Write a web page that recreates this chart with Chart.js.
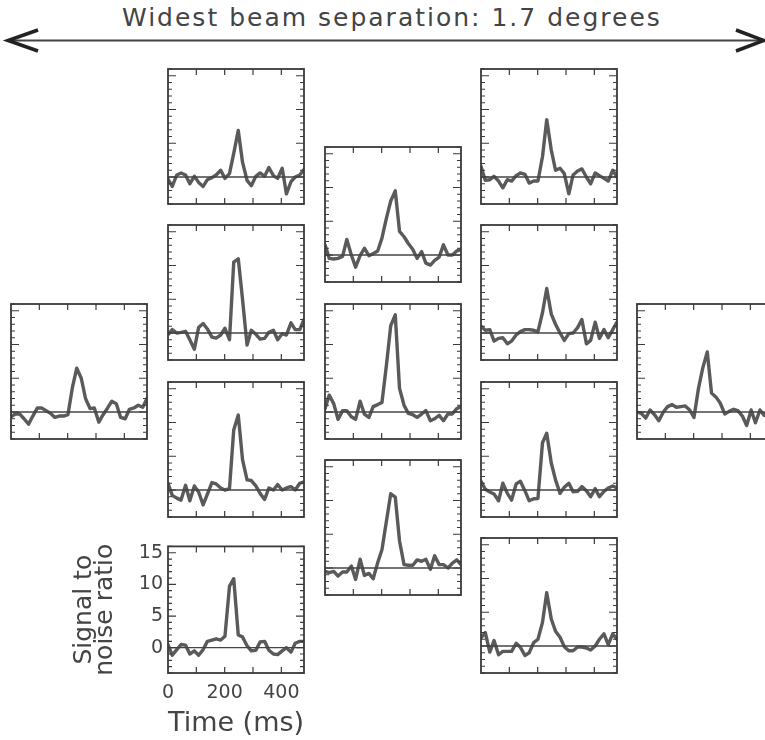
<!DOCTYPE html>
<html>
<head>
<meta charset="utf-8">
<script src="https://cdn.jsdelivr.net/npm/chart.js@4.4.0/dist/chart.umd.min.js"></script>
<style>
html, body { margin: 0; padding: 0; background: #fff; }
#stage { position: relative; width: 765px; height: 740px; overflow: hidden; background: #fff; }
#stage canvas { position: absolute; }
#title { position: absolute; left: 122px; top: 3px; font: 25px "DejaVu Sans", sans-serif; letter-spacing: 2px; color: #444; white-space: nowrap; }
#arrow { position: absolute; left: 0; top: 0; }
</style>
</head>
<body>
<div id="stage">
  <div id="title">Widest beam separation: 1.7 degrees</div>
  <svg id="arrow" width="765" height="60">
    <line x1="10" y1="40.5" x2="760" y2="40.5" stroke="#444" stroke-width="2"/>
    <polyline points="38,30 8,40.5 38,51" fill="none" stroke="#222" stroke-width="3.5"/>
    <polyline points="736,30 764,40.5 736,51" fill="none" stroke="#222" stroke-width="3.5"/>
  </svg>
</div>
<script>
// sample times (ms) shared by every beam
const timeMs = [0, 15, 31, 46, 62, 77, 93, 108, 124, 139, 155, 170, 186, 201, 217, 232,
                248, 263, 279, 294, 310, 325, 341, 356, 372, 387, 403, 418, 434, 449, 465, 480];

// signal to noise ratio per beam
const beamWest = [-0.7, -0.3, -0.3, -1.0, -1.8, -0.6, 0.6, 0.6, 0.2, -0.2, -0.8, -0.6, -0.6, -0.4, 3.7, 6.5,
                  5.0, 2.0, 0.5, 0.6, -1.5, -0.4, 0.6, 1.6, 1.2, -0.8, -1.0, 0.4, 0.6, 1.0, 0.7, 2.0];
const beamB1 = [-0.3, -1.4, 0.3, 0.6, 0.3, -1.0, 0.1, -0.8, -1.4, -0.4, -0.1, 0.3, 1.0, -0.2, 0.5, 3.5,
                6.9, 2.2, -0.5, -1.3, 0.1, 0.6, 0.1, 1.4, 0.2, -0.2, 1.3, -2.5, -0.7, 0.0, 0.3, 1.1];
const beamB2 = [-0.25, 0.5, 0.0, 0.1, 0.25, -1.0, -2.4, 0.8, 1.4, 0.6, -0.6, -0.75, -0.3, 0.7, -1.0, 10.5,
                11.0, 5.0, -1.8, 0.4, -0.2, -0.9, -0.8, 0.1, 0.4, -1.0, -0.1, -0.3, 1.5, 0.5, 0.5, 2.0];
const beamB3 = [1.0, -0.8, -1.2, -1.5, 0.7, -1.6, 0.6, -0.3, -2.2, -0.6, 1.1, 0.9, 0.3, 0.0, 0.2, 8.9,
                11.1, 4.5, 1.5, 1.4, 0.6, -0.5, -1.4, 0.3, 0.0, 0.8, 0.0, 0.3, 0.5, 0.0, 1.0, 1.2];
const beamB4 = [0.5, -1.2, -0.3, 0.5, 0.4, -1.0, -0.5, -1.2, -0.3, 1.0, 1.2, 1.4, 1.2, 1.8, 9.7, 10.9,
                2.0, 1.7, 0.3, -0.5, -0.4, 0.9, 1.0, -0.4, -1.0, -1.1, -0.5, 0.0, -0.7, 0.7, 1.0, 1.0];
const beamC1 = [1.5, -0.5, -0.6, -0.5, -0.2, 2.3, 0.0, -1.8, -0.1, 1.0, -0.1, 0.2, 0.6, 2.5, 5.5, 8.0,
                9.5, 3.5, 2.7, 1.7, 0.8, -0.5, 0.5, -1.2, -1.5, -0.8, -0.3, 1.5, 0.0, 0.0, 0.6, 0.8];
const beamC2 = [0.5, 2.5, 1.2, -1.1, 0.2, 0.2, -0.7, -1.1, 1.6, -0.3, -0.8, 0.8, 1.1, 1.4, 7.0, 12.8,
                14.4, 3.5, 1.0, -0.2, -0.4, -0.8, -0.3, 0.2, -1.3, -1.0, -0.5, -1.3, -0.3, -0.3, 0.5, 0.8];
const beamC3 = [-0.5, -0.7, -0.5, -1.2, -0.6, -0.6, 0.3, -1.7, 1.3, -1.1, -0.8, -1.6, 0.8, 2.7, 7.0, 11.0,
                10.5, 4.0, 0.5, 0.4, 0.4, 1.2, 1.0, 1.3, -0.2, 1.8, 0.5, 0.5, 0.0, 0.7, 1.2, 0.5];
const beamD1 = [1.6, -0.5, -0.4, 0.1, -0.6, -1.6, -0.4, -0.6, 0.2, 0.6, 0.4, -0.9, -0.6, -0.6, 3.0, 8.5,
                4.0, 1.0, 1.3, 0.5, -2.5, 0.3, 0.9, 1.2, 0.0, -1.0, 0.6, 0.2, -0.2, -0.6, 1.0, 0.0];
const beamD2 = [1.0, 0.4, 0.5, -1.2, -0.8, -0.7, -1.6, -1.2, -0.3, 0.2, 0.5, 0.5, 0.4, 0.2, 3.0, 6.6,
                2.8, 1.3, 0.0, -1.1, -0.1, 0.0, 0.8, 2.0, -1.6, -1.1, 1.6, -0.8, 0.5, -0.7, 0.5, 1.6];
const beamD3 = [1.3, 0.1, -0.3, -0.6, -1.6, 1.0, -0.5, -1.5, 0.9, 1.3, -0.1, -1.6, -1.3, -1.25, 7.0, 8.4,
                4.0, 1.5, -0.5, 0.4, 1.0, -0.25, -0.2, 0.5, -0.1, -1.0, 0.2, -1.0, -0.2, 0.3, 0.6, 0.3];
const beamD4 = [1.2, 2.0, -0.9, 0.8, -1.3, -0.8, -0.8, -0.8, 0.4, -0.2, -1.4, -1.0, 0.5, 1.0, 3.5, 7.9,
                4.0, 2.2, 1.3, -0.1, -0.7, -0.7, -0.15, -0.15, -0.3, -0.6, 0.0, 1.0, 1.8, 0.2, 1.8, 1.0];
const beamEast = [0.0, -0.2, -0.9, 0.3, -0.4, -1.3, 0.0, 0.8, 1.1, 0.7, 0.8, 0.9, 0.3, -0.8, 3.5, 6.5,
                  8.9, 2.8, 2.2, 1.3, -0.3, 0.1, 0.4, 0.2, -0.6, -2.0, 0.3, -1.6, 0.3, -0.5, 0.3, 0.5];

// axis ranges and ticks
const timeRange = [0, 480];
const snrRange = [-4, 16];
const xTickValues = [100, 200, 300, 400];
const yTickValues = [-4, -3, -2, -1, 0, 1, 2, 3, 4, 5, 6, 7, 8, 9, 10, 11, 12, 13, 14, 15, 16];
const xLabelTicks = [0, 200, 400];
const yLabelTicks = [0, 5, 10, 15];

// where each panel's plot box sits (left, top of plot area in px)
const panels = [
  { values: beamWest, left: 11,  top: 304 },
  { values: beamB1,   left: 168, top: 69 },
  { values: beamB2,   left: 168, top: 225 },
  { values: beamB3,   left: 168, top: 382 },
  { values: beamB4,   left: 168, top: 538, labelled: true },
  { values: beamC1,   left: 325, top: 147 },
  { values: beamC2,   left: 325, top: 304 },
  { values: beamC3,   left: 325, top: 460 },
  { values: beamD1,   left: 481, top: 69 },
  { values: beamD2,   left: 481, top: 225 },
  { values: beamD3,   left: 481, top: 382 },
  { values: beamD4,   left: 481, top: 538 },
  { values: beamEast, left: 637, top: 304 }
];
const boxW = 136, boxH = 135, pad = 5;

// inward tick marks and the frame, drawn from the chart's own scales
const frameTicks = {
  id: 'frameTicks',
  afterDatasetsDraw(chart) {
    const { ctx, chartArea: a, scales: { x, y } } = chart;
    ctx.save();
    ctx.strokeStyle = '#3a3a3a';
    ctx.lineWidth = 1.2;
    ctx.beginPath();
    yTickValues.forEach(v => {
      const py = y.getPixelForValue(v);
      const len = v % 5 === 0 ? 8 : 4;
      ctx.moveTo(a.left, py); ctx.lineTo(a.left + len, py);
      ctx.moveTo(a.right, py); ctx.lineTo(a.right - len, py);
    });
    xTickValues.forEach(v => {
      const px = x.getPixelForValue(v);
      ctx.moveTo(px, a.top); ctx.lineTo(px, a.top + 6);
      ctx.moveTo(px, a.bottom); ctx.lineTo(px, a.bottom - 6);
    });
    ctx.stroke();
    ctx.lineWidth = 1.8;
    ctx.strokeRect(a.left, a.top, a.right - a.left, a.bottom - a.top);
    ctx.restore();
  }
};

const stage = document.getElementById('stage');

function makePanel(p) {
  const canvas = document.createElement('canvas');
  let cw = boxW + 2 * pad, ch = boxH + 2 * pad;
  let left = p.left - pad, top = p.top - pad;
  let padding = pad;
  if (p.labelled) {
    left = 60; top = 530;
    cw = 260; ch = 210;
    padding = { left: 0, top: p.top - top, right: left + cw - (p.left + boxW), bottom: 0 };
  }
  canvas.width = cw; canvas.height = ch;
  canvas.style.left = left + 'px';
  canvas.style.top = top + 'px';
  stage.appendChild(canvas);

  const points = timeMs.map((t, i) => ({ x: t, y: p.values[i] }));
  const zeroLine = [{ x: timeRange[0], y: 0 }, { x: timeRange[1], y: 0 }];
  const font = { family: 'DejaVu Sans', size: 19 };

  const xScale = { type: 'linear', min: timeRange[0], max: timeRange[1], display: false };
  const yScale = { type: 'linear', min: snrRange[0], max: snrRange[1], display: false };
  if (p.labelled) {
    Object.assign(xScale, {
      display: true,
      grid: { display: false, drawTicks: false },
      border: { display: false },
      ticks: { color: '#444', font: font, padding: 9, maxRotation: 0 },
      afterBuildTicks: s => { s.ticks = xLabelTicks.map(v => ({ value: v })); },
      afterFit: s => { s.height = 740 - top - (p.top - top) - boxH; },
      title: { display: true, text: 'Time (ms)', color: '#444',
               font: { family: 'DejaVu Sans', size: 27, lineHeight: 1.0 }, padding: { top: 0, bottom: 3 } }
    });
    Object.assign(yScale, {
      display: true,
      grid: { display: false, drawTicks: false },
      border: { display: false },
      ticks: { color: '#444', font: font, padding: 5 },
      afterBuildTicks: s => { s.ticks = yLabelTicks.map(v => ({ value: v })); },
      afterFit: s => { s.width = p.left - left; },
      title: { display: true, text: ['Signal to', 'noise ratio'], color: '#444',
               font: { family: 'DejaVu Sans', size: 25, lineHeight: 0.85 }, padding: { top: 14, bottom: 0 } }
    });
  }

  new Chart(canvas, {
    type: 'line',
    data: {
      datasets: [
        { data: zeroLine, borderColor: '#454545', borderWidth: 1.3, pointRadius: 0, order: 0 },
        { data: points, borderColor: '#5a5a5a', borderWidth: 3.4, pointRadius: 0,
          borderJoinStyle: 'round', borderCapStyle: 'round', tension: 0, order: 1 }
      ]
    },
    options: {
      responsive: false,
      animation: false,
      events: [],
      devicePixelRatio: 1,
      layout: { padding: padding },
      plugins: { legend: { display: false }, tooltip: { enabled: false } },
      scales: { x: xScale, y: yScale }
    },
    plugins: [frameTicks]
  });
}

panels.forEach(makePanel);
</script>
</body>
</html>
